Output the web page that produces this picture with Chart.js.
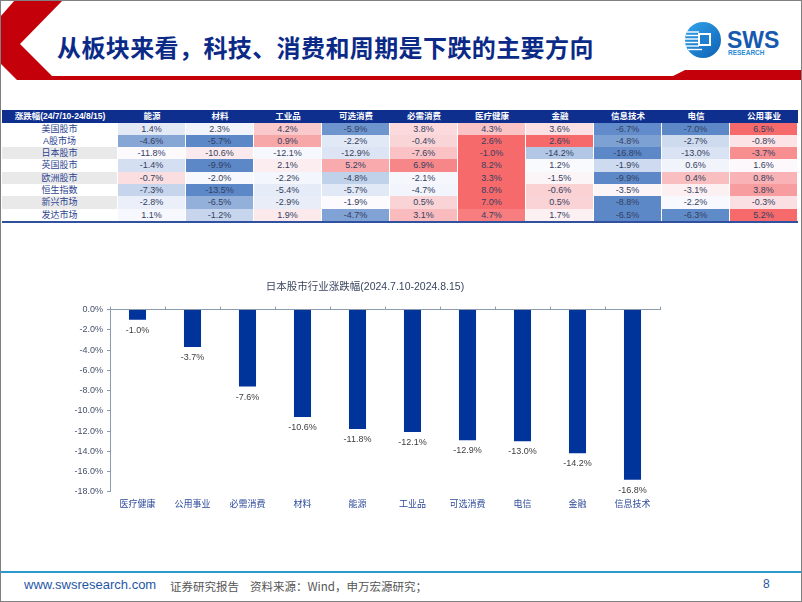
<!DOCTYPE html>
<html>
<head>
<meta charset="utf-8">
<script src="https://cdn.jsdelivr.net/npm/chart.js@4.4.0/dist/chart.umd.min.js"></script>
<style>
  html, body { margin: 0; padding: 0; background: #fff; }
  body { width: 802px; height: 602px; position: relative; overflow: hidden;
         font-family: 'Liberation Sans', 'Noto Sans CJK SC', sans-serif; }
  .frame { position: absolute; left: 0; top: 0; width: 800px; height: 600px;
           border: 1px solid #808080; pointer-events: none; z-index: 5; }
  .title { position: absolute; left: 57px; top: 29px; font-size: 24px; font-weight: 700;
           color: #0b2a88; font-family: 'Noto Sans CJK SC', sans-serif; letter-spacing: 0.4px; white-space: nowrap; }
  .cell { position: absolute; box-sizing: border-box; text-align: center; white-space: nowrap;
          font-size: 9px; color: #34405e; border-right: 1px solid #fff; }
  .hd { color: #fff; font-weight: 700; font-size: 8.5px; background: #0f2f8f; border-right: none; }
  .foot { position: absolute; top: 577px; white-space: nowrap; }
  #chartBox { position: absolute; left: 0; top: 275px; width: 700px; height: 248px; }
</style>
</head>
<body>
<div class="frame"></div>

<svg style="position:absolute;left:0;top:0" width="802" height="100">
  <polygon points="15,0 63,0 20,44 52,76 673,76 685,70 802,70 802,80 17,80 0,63 0,17" fill="#c4000b"/>
  <defs>
    <linearGradient id="lg" x1="0" y1="0" x2="1" y2="1">
      <stop offset="0" stop-color="#33a6ee"/>
      <stop offset="1" stop-color="#0c5fb2"/>
    </linearGradient>
  </defs>
  <circle cx="703" cy="40" r="18" fill="url(#lg)"/>
  <g stroke="#fff" stroke-width="1.4">
    <line x1="687" y1="32" x2="699" y2="32"/>
    <line x1="686" y1="35.5" x2="699" y2="35.5"/>
    <line x1="685" y1="39" x2="699" y2="39"/>
    <line x1="685" y1="42.5" x2="699" y2="42.5"/>
    <line x1="686" y1="46" x2="699" y2="46"/>
    <line x1="688" y1="49.5" x2="702" y2="49.5"/>
  </g>
  <rect x="698" y="33" width="13" height="13" fill="#fff"/>
  <rect x="700" y="35" width="9" height="9" fill="#1e7fd0"/>
  <text x="727" y="48" font-family="Liberation Sans, sans-serif" font-weight="700" font-size="23" fill="#1559b0">SWS</text>
  <text x="728" y="55" font-family="Liberation Sans, sans-serif" font-weight="700" font-size="6.5" fill="#2a8ad8">RESEARCH</text>
</svg>

<div class="title">从板块来看，科技、消费和周期是下跌的主要方向</div>

<div id="table"></div>
<div style="position:absolute;left:2px;top:220.5px;width:796px;height:2px;background:#3050a0"></div>

<div id="chartBox"><canvas id="chart"></canvas></div>

<div style="position:absolute;left:0;top:571px;width:802px;height:2px;background:#2b9ad0"></div>
<div class="foot" style="left:24px;font-size:13px;color:#1f56a6">www.swsresearch.com</div>
<div class="foot" style="left:170px;top:578px;font-size:11.5px;color:#555;font-family:'Noto Sans CJK SC',sans-serif">证券研究报告</div>
<div class="foot" style="left:250px;top:578px;font-size:11.5px;color:#555;font-family:'Noto Sans CJK SC',sans-serif">资料来源：Wind，申万宏源研究；</div>
<div class="foot" style="left:763px;font-size:12px;color:#1f56a6">8</div>

<script>
// table data
const tableTitle = '涨跌幅(24/7/10-24/8/15)';
const sectors = ['能源', '材料', '工业品', '可选消费', '必需消费', '医疗健康', '金融', '信息技术', '电信', '公用事业'];
const markets = ['美国股市', 'A股市场', '日本股市', '英国股市', '欧洲股市', '恒生指数', '新兴市场', '发达市场'];
const usRet = [1.4, 2.3, 4.2, -5.9, 3.8, 4.3, 3.6, -6.7, -7.0, 6.5];
const aRet = [-4.6, -5.7, 0.9, -2.2, -0.4, 2.6, 2.6, -4.8, -2.7, -0.8];
const jpRet = [-11.8, -10.6, -12.1, -12.9, -7.6, -1.0, -14.2, -16.8, -13.0, -3.7];
const ukRet = [-1.4, -9.9, 2.1, 5.2, 6.9, 8.2, 1.2, -1.9, 0.6, 1.6];
const euRet = [-0.7, -2.0, -2.2, -4.8, -2.1, 3.3, -1.5, -9.9, 0.4, 0.8];
const hsRet = [-7.3, -13.5, -5.4, -5.7, -4.7, 8.0, -0.6, -3.5, -3.1, 3.8];
const emRet = [-2.8, -6.5, -2.9, -1.9, 0.5, 7.0, 0.5, -8.8, -2.2, -0.3];
const dmRet = [1.1, -1.2, 1.9, -4.7, 3.1, 4.7, 1.7, -6.5, -6.3, 5.2];
const tableRows = [usRet, aRet, jpRet, ukRet, euRet, hsRet, emRet, dmRet];

// chart data
const chartTitle = '日本股市行业涨跌幅(2024.7.10-2024.8.15)';
const chartLabels = ['医疗健康', '公用事业', '必需消费', '材料', '能源', '工业品', '可选消费', '电信', '金融', '信息技术'];
const chartValues = [-1.0, -3.7, -7.6, -10.6, -11.8, -12.1, -12.9, -13.0, -14.2, -16.8];

// heatmap colours, row by row (red high, white median, blue low)
const RED = [246, 106, 108], WHITE = [252, 252, 255], BLUE = [92, 136, 200];
function mix(a, b, t) { return 'rgb(' + a.map((v, i) => Math.round(v + (b[i] - v) * t)).join(',') + ')'; }
function heat(v, row) {
  const s = [...row].sort((a, b) => a - b);
  const n = s.length;
  const mid = n % 2 ? s[(n - 1) / 2] : (s[n / 2 - 1] + s[n / 2]) / 2;
  const lo = s[0], hi = s[n - 1];
  if (v >= mid) return mix(WHITE, RED, hi === mid ? 0 : (v - mid) / (hi - mid));
  return mix(WHITE, BLUE, (mid - v) / (mid - lo));
}

const table = document.getElementById('table');
const x0 = 2, firstW = 116, colW = 68, headTop = 110, headH = 12.5, rowH = 12.3;
function addCell(x, y, w, h, text, cls, bg, color) {
  const d = document.createElement('div');
  d.className = 'cell ' + (cls || '');
  d.style.cssText += `left:${x}px;top:${y}px;width:${w}px;height:${h}px;line-height:${h}px;`;
  if (bg) d.style.background = bg;
  if (color) d.style.color = color;
  d.textContent = text;
  table.appendChild(d);
}
addCell(x0, headTop, firstW, headH, tableTitle, 'hd');
sectors.forEach((s, j) => addCell(x0 + firstW + j * colW, headTop, colW, headH, s, 'hd'));
markets.forEach((m, i) => {
  const y = headTop + headH + i * rowH;
  addCell(x0, y, firstW, rowH, m, '', i % 2 === 0 && i > 0 ? '#e9e9ea' : '#fff', '#2d4590');
  tableRows[i].forEach((v, j) => {
    addCell(x0 + firstW + j * colW, y, colW, rowH, v.toFixed(1) + '%', '', heat(v, tableRows[i]));
  });
});

const FONT = "'Liberation Sans', 'Noto Sans CJK SC', sans-serif";
const AXIS = '#8c9bb0';

const barLabels = {
  id: 'barLabels',
  afterDatasetsDraw(chart) {
    const ctx = chart.ctx;
    ctx.save();
    ctx.font = '9px ' + FONT;
    ctx.fillStyle = '#404040';
    ctx.textAlign = 'center';
    ctx.textBaseline = 'top';
    chart.getDatasetMeta(0).data.forEach((bar, i) => {
      ctx.fillText(chartValues[i].toFixed(1) + '%', bar.x, bar.y + 6);
    });
    ctx.restore();
  }
};

new Chart(document.getElementById('chart'), {
  type: 'bar',
  data: {
    labels: chartLabels,
    datasets: [{
      data: chartValues,
      backgroundColor: '#00349a',
      categoryPercentage: 0.31,
      barPercentage: 1
    }]
  },
  plugins: [barLabels],
  options: {
    responsive: true,
    maintainAspectRatio: false,
    animation: false,
    layout: { padding: { left: 70, right: 40, top: 0, bottom: 5.4 } },
    plugins: {
      legend: { display: false },
      tooltip: { enabled: false },
      title: {
        display: true,
        text: chartTitle,
        color: '#3a4660',
        font: { family: FONT, size: 10.5, weight: 'normal' },
        padding: { top: 5.5, bottom: 13.5 }
      }
    },
    scales: {
      x: {
        position: 'bottom',
        border: { display: false },
        grid: { display: false, drawTicks: false },
        ticks: { color: '#2d4a9a', font: { family: FONT, size: 9 }, padding: 7.5, maxRotation: 0, autoSkip: false }
      },
      x2: {
        type: 'category',
        position: 'top',
        offset: true,
        border: { display: true, color: AXIS, width: 1 },
        grid: { drawOnChartArea: false, drawTicks: true, tickLength: 3, color: AXIS, offset: true },
        ticks: { display: false }
      },
      y: {
        min: -18,
        max: 0,
        border: { display: true, color: AXIS, width: 1 },
        grid: { drawOnChartArea: false, drawTicks: true, tickLength: 3, color: AXIS },
        ticks: {
          stepSize: 2,
          color: '#44506a',
          font: { family: FONT, size: 9 },
          padding: 4,
          callback: v => (Math.abs(v) < 1e-9 ? 0 : v).toFixed(1) + '%'
        },
        afterFit(scale) { scale.width = 40; }
      }
    }
  }
});
</script>
</body>
</html>
